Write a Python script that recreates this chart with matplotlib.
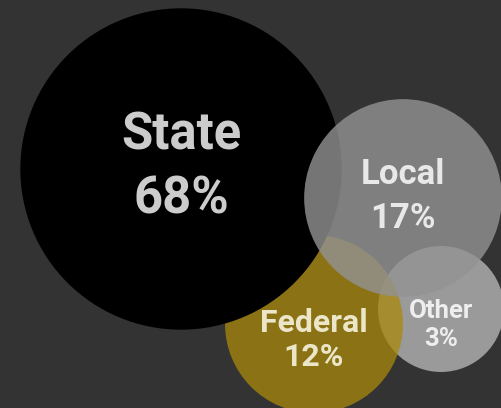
import numpy as np
import matplotlib.pyplot as plt
from matplotlib.patches import Circle

labels = ['Other', 'Federal', 'State', 'Local']
values = [3, 12, 68, 17]

# layout (pixel coords, y down) and styling, drawn bottom to top
centers = [(441, 309), (314, 324), (181, 169), (403, 198)]
colors = ['#9a9a9a', '#aa880b', '#000000', '#939393']
alphas = [1.0, 0.75, 1.0, 0.8]
text_colors = ['#eeeeee', '#ece6c8', '#cccccc', '#e8e8e8']
font_sizes = [18.5, 23, 36.5, 25]
text_pos = [(441, 311, 339), (314, 323, 357), (181, 136, 200), (403, 175, 218)]

fig = plt.figure(figsize=(5.02, 4.08), dpi=100, facecolor='#333333')
ax = fig.add_axes([0, 0, 1, 1])
ax.set_facecolor('#333333')
ax.set_xlim(0, 502)
ax.set_ylim(408, 0)
ax.set_aspect('equal')
ax.axis('off')

for v, c, col, a in zip(values, centers, colors, alphas):
    r = 37 + 15 * np.sqrt(v)
    ax.add_patch(Circle(c, r, facecolor=col, alpha=a, edgecolor='none'))

for lab, v, (x, y1, y2), tc, fs in zip(labels, values, text_pos, text_colors, font_sizes):
    ax.text(x, y1, lab, ha='center', va='center', color=tc, fontsize=fs,
            fontfamily='Roboto', fontweight='bold')
    ax.text(x, y2, f'{v}%', ha='center', va='center', color=tc, fontsize=fs,
            fontfamily='Roboto', fontweight='bold')

fig.savefig('out.png', dpi=100, facecolor='#333333')
